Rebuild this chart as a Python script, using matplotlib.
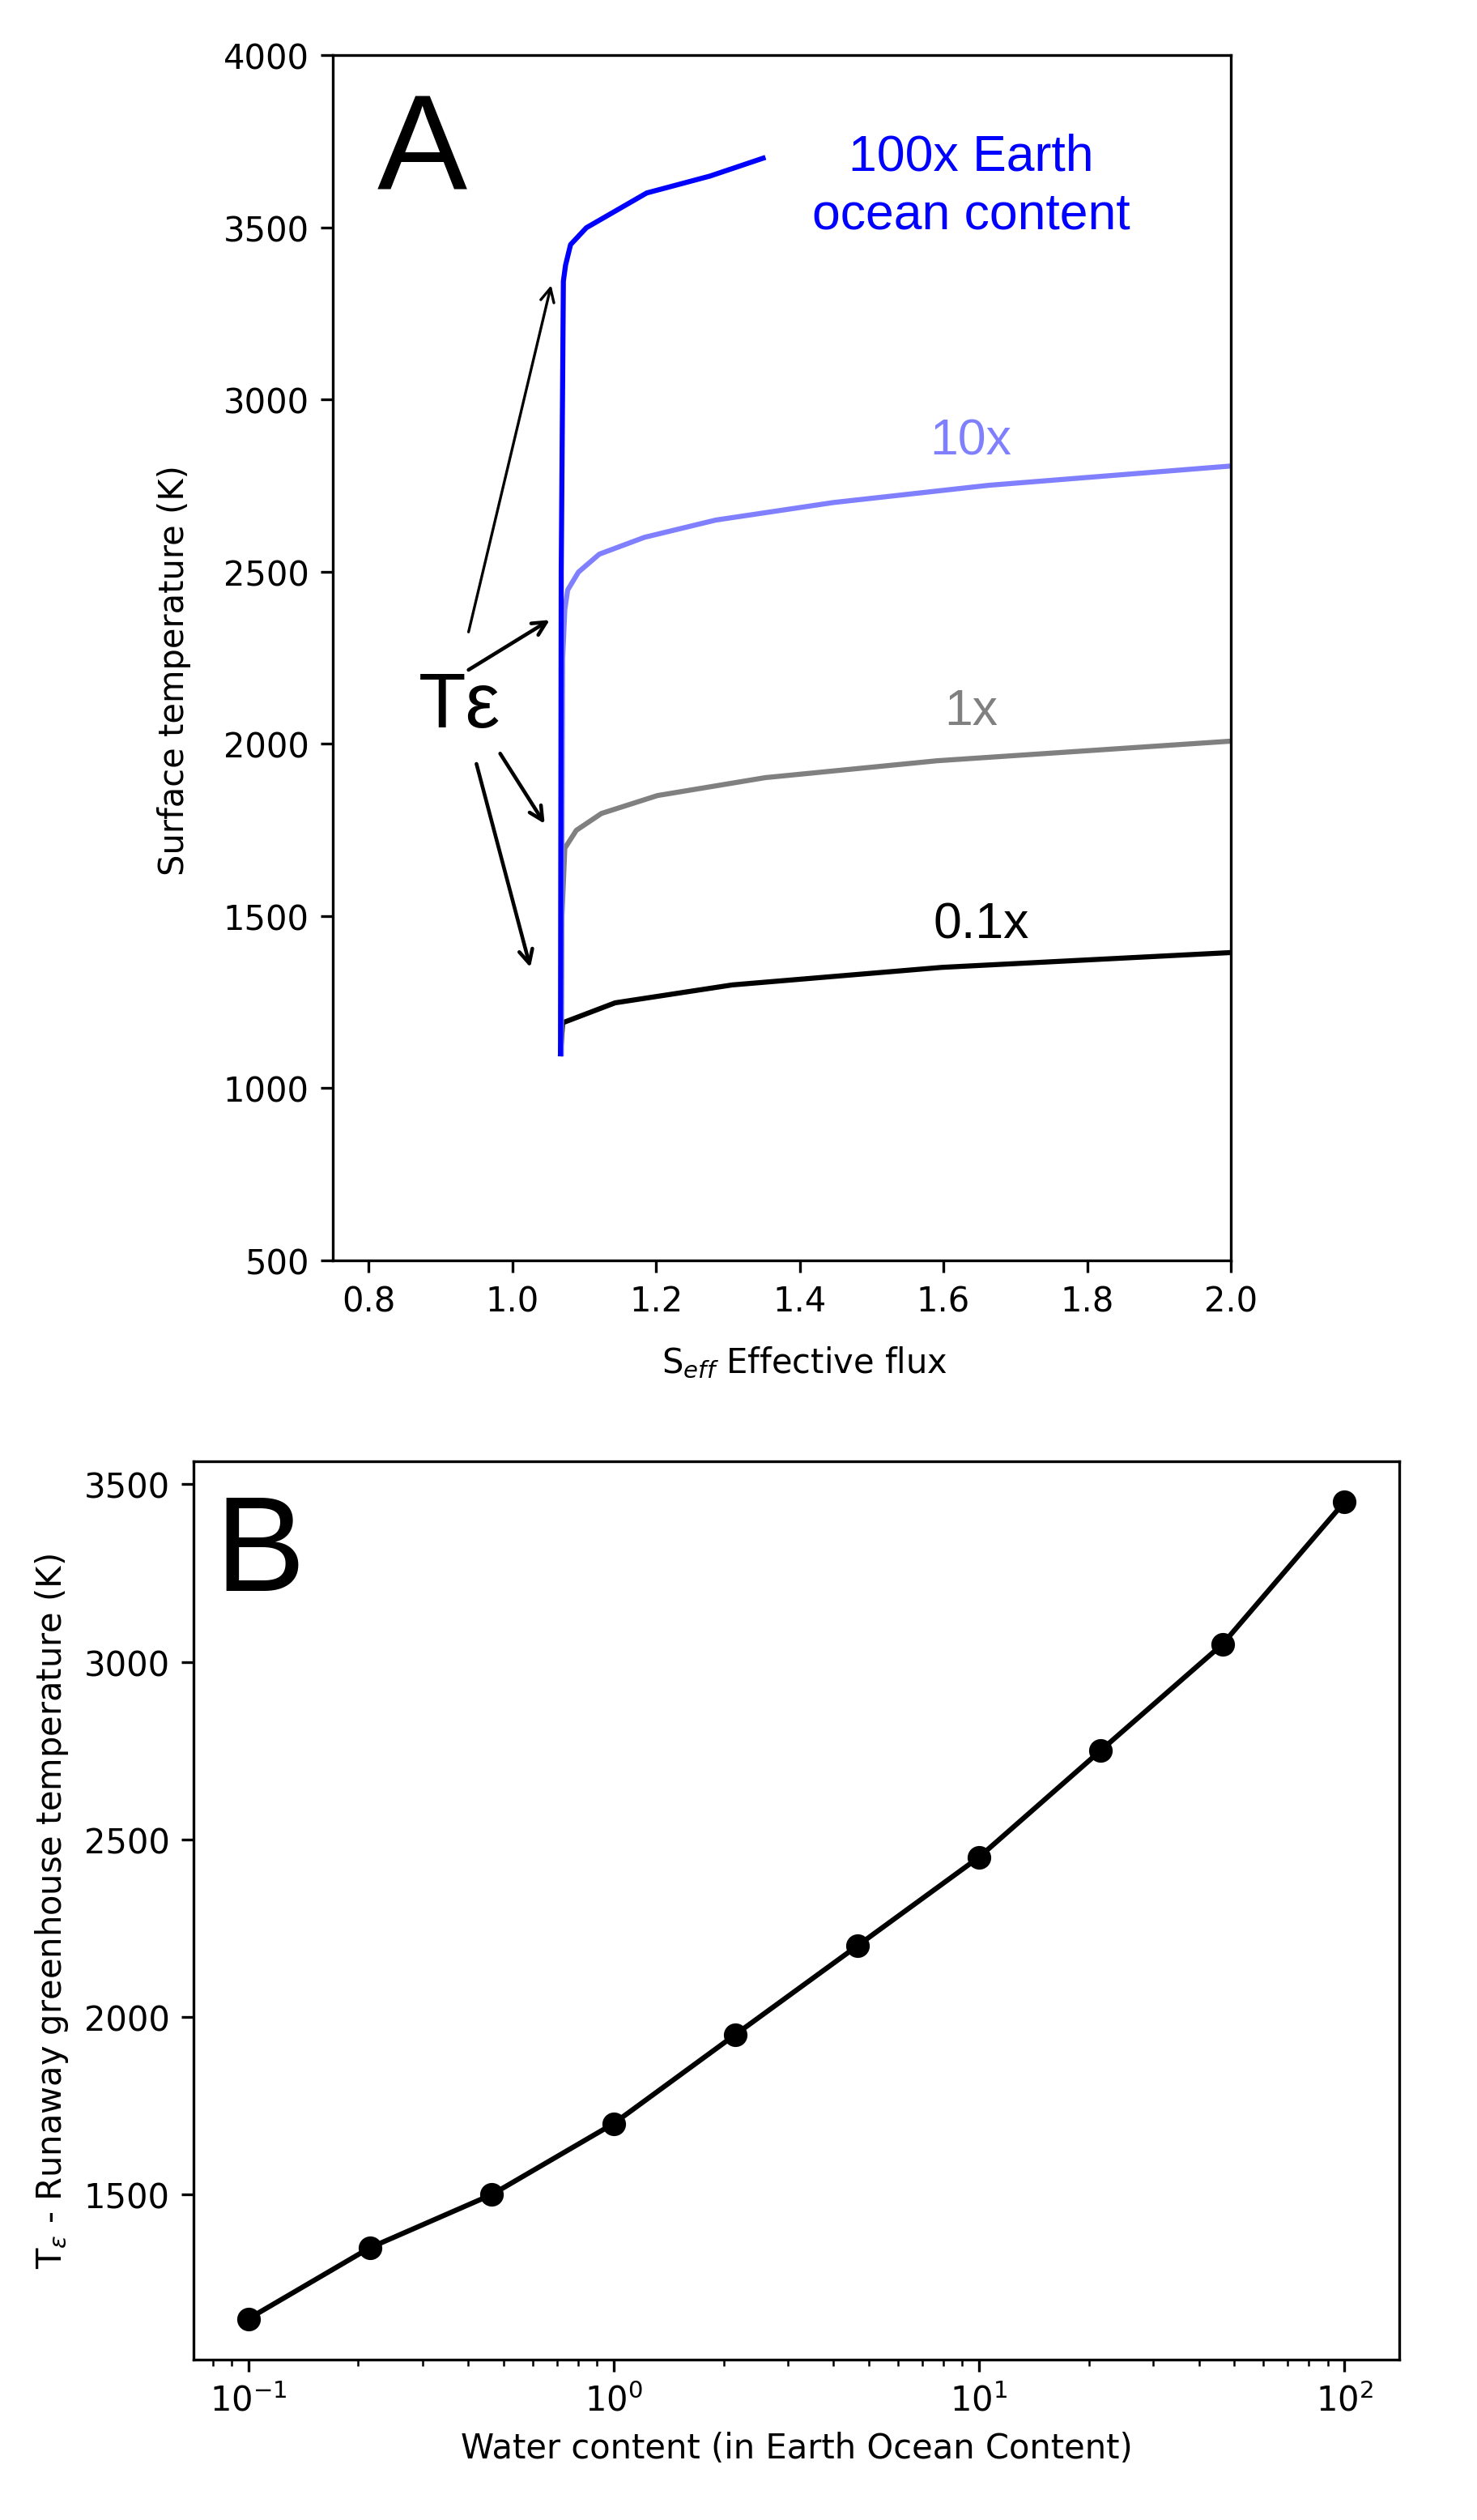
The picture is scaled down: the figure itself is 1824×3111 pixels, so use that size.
import matplotlib
matplotlib.use("Agg")
import matplotlib.pyplot as plt
import numpy as np

# Panel A: surface temperature vs effective flux for different water inventories
s_100x = [1.067, 1.068, 1.071, 1.074, 1.081, 1.103, 1.187, 1.275, 1.349]
t_100x = [1100, 2500, 3344, 3390, 3450, 3499, 3600, 3649, 3701]

s_10x = [1.068, 1.070, 1.073, 1.077, 1.092, 1.121, 1.184, 1.283, 1.447, 1.663, 2.0]
t_10x = [1100, 2250, 2390, 2447, 2499, 2551, 2600, 2650, 2701, 2751, 2807]

s_1x = [1.068, 1.069, 1.073, 1.089, 1.124, 1.202, 1.352, 1.591, 2.0]
t_1x = [1100, 1500, 1697, 1749, 1798, 1850, 1902, 1951, 2008]

s_01x = [1.067, 1.070, 1.143, 1.306, 1.598, 2.0]
t_01x = [1100, 1190, 1248, 1300, 1351, 1394]

# Panel B: runaway greenhouse temperature vs water content
water = [0.1, 0.215, 0.464, 1.0, 2.15, 4.64, 10.0, 21.5, 46.4, 100.0]
t_eps = [1150, 1350, 1500, 1700, 1950, 2200, 2450, 2750, 3050, 3450]

label_font = "Liberation Sans"

fig = plt.figure(figsize=(6.08, 10.373), dpi=300)

# ---- Panel A ----
axA = fig.add_axes([0.2253, 0.4997, 0.6080, 0.4781])
axA.plot(s_01x, t_01x, color="black", lw=1.5)
axA.plot(s_1x, t_1x, color="#808080", lw=1.5)
axA.plot(s_10x, t_10x, color="#8080ff", lw=1.5)
axA.plot(s_100x, t_100x, color="#0000ff", lw=1.5)

axA.set_xlim(0.75, 2.0)
axA.set_ylim(500, 4000)
axA.set_xticks([0.8, 1.0, 1.2, 1.4, 1.6, 1.8, 2.0])
axA.set_xlabel("S$_{eff}$ Effective flux", labelpad=8)
axA.xaxis.label.set_x(0.525)
axA.set_ylabel("Surface temperature (K)", labelpad=9.5)
axA.yaxis.label.set_y(0.49)

axA.text(0.099, 0.918, "A", transform=axA.transAxes, fontsize=40,
         family=label_font, ha="center", va="center")

axA.text(1.639, 3622, "100x Earth\nocean content", color="#0000ff", fontsize=15,
         family=label_font, ha="center", va="center", multialignment="center",
         linespacing=1.28)
axA.text(1.638, 2880, "10x", color="#8080ff", fontsize=15,
         family=label_font, ha="center", va="center")
axA.text(1.638, 2095, "1x", color="#808080", fontsize=15,
         family=label_font, ha="center", va="center")
axA.text(1.652, 1476, "0.1x", color="black", fontsize=15,
         family=label_font, ha="center", va="center")

axA.text(0.926, 2050, "T\u03b5", fontsize=23, family=label_font,
         ha="center", va="baseline")

# arrows from the T-epsilon label to the onset of each curve
arrows = [
    ((0.939, 2325), (1.054, 3332), 0.8),
    ((0.939, 2215), (1.052, 2360), 1.1),
    ((0.983, 1972), (1.045, 1768), 1.1),
    ((0.950, 1942), (1.025, 1351), 1.1),
]
for start, end, lw in arrows:
    axA.annotate("", xy=end, xytext=start,
                 arrowprops=dict(arrowstyle="->", color="black", lw=lw,
                                 shrinkA=0, shrinkB=0))

# ---- Panel B ----
axB = fig.add_axes([0.1310, 0.0636, 0.8163, 0.3564])
axB.plot(water, t_eps, color="black", marker="o", lw=1.5, markersize=6)
axB.set_xscale("log")
axB.set_yticks([1500, 2000, 2500, 3000, 3500])
axB.set_xlabel("Water content (in Earth Ocean Content)")
axB.set_ylabel("T$_\\epsilon$ - Runaway greenhouse temperature (K)")

axB.text(0.055, 0.895, "B", transform=axB.transAxes, fontsize=40,
         family=label_font, ha="center", va="center")

fig.savefig("out.png", dpi=300)
